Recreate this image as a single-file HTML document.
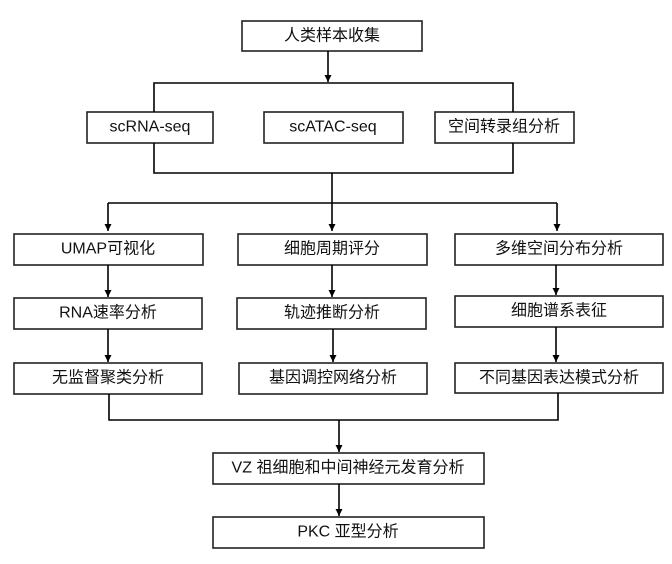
<!DOCTYPE html>
<html><head><meta charset="utf-8"><style>
body{margin:0;background:#fff;}
svg text{font-family:"Liberation Sans","Noto Sans CJK SC",sans-serif;font-size:16px;fill:#111;text-anchor:middle;dominant-baseline:central;}
</style></head><body>
<svg width="672" height="559" viewBox="0 0 672 559" xmlns="http://www.w3.org/2000/svg">
<defs><marker id="a" viewBox="0 0 10 10" refX="10" refY="5" markerWidth="7" markerHeight="7" markerUnits="userSpaceOnUse" orient="auto"><path d="M0,0L10,5L0,10z" fill="#000"/></marker></defs>
<g fill="#fff" stroke="#222" stroke-width="1.6">
<rect x="242" y="21" width="180" height="30"/>
<rect x="87" y="112" width="126" height="31"/>
<rect x="264" y="112" width="139" height="31"/>
<rect x="435" y="112" width="139" height="31"/>
<rect x="14" y="234" width="189" height="31"/>
<rect x="238" y="234" width="189" height="31"/>
<rect x="455" y="234" width="208" height="31"/>
<rect x="14" y="298" width="188" height="31"/>
<rect x="237" y="298" width="189" height="31"/>
<rect x="455" y="296" width="208" height="31"/>
<rect x="14" y="363" width="188" height="31"/>
<rect x="239" y="363" width="188" height="31"/>
<rect x="455" y="363" width="208" height="30"/>
<rect x="213" y="453" width="271" height="31"/>
<rect x="213" y="517" width="271" height="31"/>
</g>
<g stroke="#000" stroke-width="1.6" fill="none">
<line x1="328" y1="51" x2="328" y2="82" marker-end="url(#a)"/>
<polyline points="154,112 154,83 513,83 513,112"/>
<polyline points="154,143 154,173 513,173 513,143"/>
<line x1="332" y1="173" x2="332" y2="203"/>
<line x1="108" y1="203" x2="557" y2="203"/>
<line x1="108" y1="203" x2="108" y2="231" marker-end="url(#a)"/>
<line x1="332" y1="203" x2="332" y2="231" marker-end="url(#a)"/>
<line x1="557" y1="203" x2="557" y2="231" marker-end="url(#a)"/>
<line x1="108" y1="265" x2="108" y2="297" marker-end="url(#a)"/>
<line x1="332" y1="265" x2="332" y2="297" marker-end="url(#a)"/>
<line x1="556" y1="265" x2="556" y2="295" marker-end="url(#a)"/>
<line x1="108" y1="329" x2="108" y2="362" marker-end="url(#a)"/>
<line x1="333" y1="329" x2="333" y2="362" marker-end="url(#a)"/>
<line x1="556" y1="327" x2="556" y2="362" marker-end="url(#a)"/>
<polyline points="109,394 109,420 558,420 558,393"/>
<line x1="339" y1="420" x2="339" y2="452" marker-end="url(#a)"/>
<line x1="339" y1="484" x2="339" y2="516" marker-end="url(#a)"/>
</g>
<text x="332" y="36">人类样本收集</text>
<text x="150" y="127">scRNA-seq</text>
<text x="333" y="127">scATAC-seq</text>
<text x="504" y="127">空间转录组分析</text>
<text x="108" y="249">UMAP可视化</text>
<text x="332" y="249">细胞周期评分</text>
<text x="559" y="249">多维空间分布分析</text>
<text x="108" y="313">RNA速率分析</text>
<text x="332" y="313">轨迹推断分析</text>
<text x="559" y="311">细胞谱系表征</text>
<text x="108" y="378">无监督聚类分析</text>
<text x="333" y="378">基因调控网络分析</text>
<text x="559" y="378">不同基因表达模式分析</text>
<text x="348" y="468">VZ 祖细胞和中间神经元发育分析</text>
<text x="348" y="532">PKC 亚型分析</text>
</svg>
</body></html>
